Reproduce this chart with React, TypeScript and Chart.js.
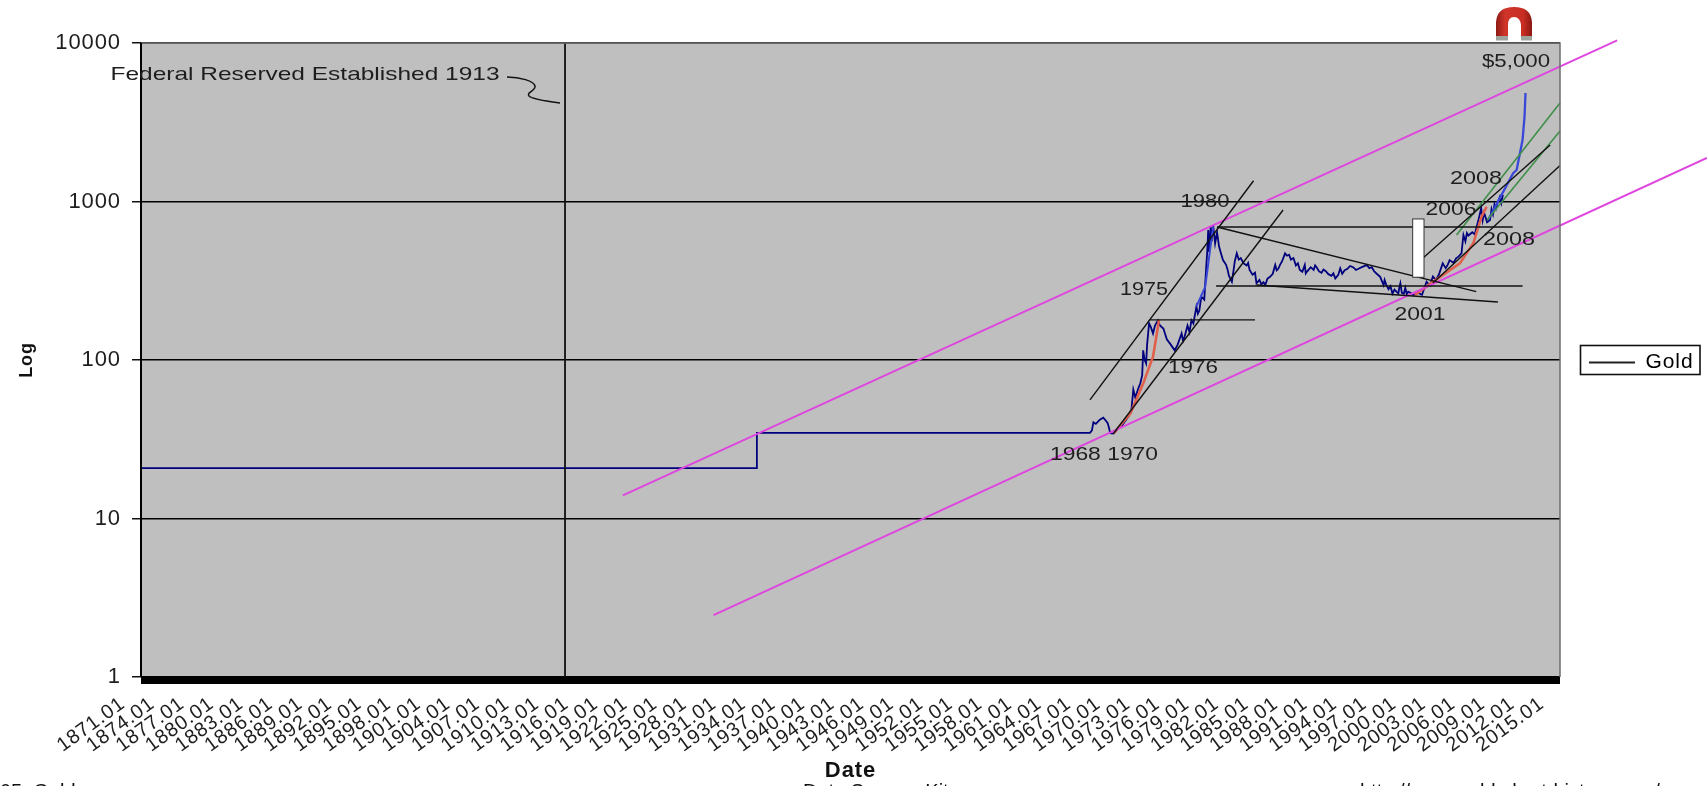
import React, { useEffect, useRef } from "react";
import { Chart, registerables } from "chart.js";

Chart.register(...registerables);

const SANS = "'Liberation Sans', Arial, sans-serif";

const tickYears = [1871, 1874, 1877, 1880, 1883, 1886, 1889, 1892, 1895, 1898, 1901, 1904, 1907, 1910, 1913, 1916, 1919, 1922, 1925, 1928, 1931, 1934, 1937, 1940, 1943, 1946, 1949, 1952, 1955, 1958, 1961, 1964, 1967, 1970, 1973, 1976, 1979, 1982, 1985, 1988, 1991, 1994, 1997, 2000, 2003, 2006, 2009, 2012, 2015];
const valueTicks = [1, 10, 100, 1000, 10000];

const goldDates = [1871, 1933.5, 1933.5, 1967.3, 1967.5, 1967.65, 1967.9, 1968.3, 1968.65, 1968.9, 1969.1, 1969.25, 1969.35, 1969.7, 1970.2, 1970.6, 1971.2, 1971.5, 1971.7, 1971.9, 1972.2, 1972.4, 1972.6, 1972.7, 1972.85, 1973.0, 1973.1, 1973.3, 1973.5, 1973.7, 1973.9, 1974.2, 1974.4, 1974.75, 1975.1, 1975.5, 1975.9, 1976.2, 1976.6, 1976.75, 1976.9, 1977.05, 1977.2, 1977.4, 1977.6, 1977.8, 1978.1, 1978.25, 1978.4, 1978.6, 1978.9, 1979.1, 1979.2, 1979.3, 1979.4, 1979.55, 1979.65, 1979.8, 1980, 1980.2, 1980.4, 1980.6, 1980.8, 1981.1, 1981.25, 1981.4, 1981.7, 1981.85, 1982, 1982.2, 1982.4, 1982.6, 1982.9, 1983.2, 1983.35, 1983.5, 1983.8, 1984.05, 1984.2, 1984.5, 1984.7, 1984.9, 1985.1, 1985.3, 1985.6, 1985.85, 1986.1, 1986.25, 1986.4, 1986.6, 1986.8, 1987.1, 1987.3, 1987.5, 1987.7, 1987.95, 1988.2, 1988.4, 1988.6, 1988.85, 1989.1, 1989.2, 1989.3, 1989.5, 1989.7, 1990.0, 1990.15, 1990.3, 1990.55, 1990.8, 1991.0, 1991.2, 1991.5, 1991.8, 1992.0, 1992.2, 1992.5, 1992.7, 1992.9, 1993.15, 1993.4, 1993.7, 1994, 1994.3, 1994.6, 1995, 1995.4, 1995.65, 1995.9, 1996.15, 1996.4, 1996.75, 1997.1, 1997.2, 1997.35, 1997.6, 1997.8, 1998.0, 1998.2, 1998.4, 1998.6, 1998.7, 1998.8, 1998.95, 1999.15, 1999.3, 1999.45, 1999.6, 1999.85, 2000.1, 2000.6, 2001, 2001.46, 2001.8, 2002.1, 2002.4, 2002.7, 2003.1, 2003.4, 2003.6, 2003.8, 2004.2, 2004.45, 2004.7, 2005.0, 2005.2, 2005.4, 2005.55, 2005.7, 2006.1, 2006.35, 2006.5, 2006.8, 2007, 2007.15, 2007.3, 2007.6, 2007.9, 2008.05, 2008.2, 2008.35, 2008.5, 2008.7, 2008.9, 2009.05, 2009.2];
const goldPrices = [20.8, 20.8, 34.7, 34.7, 36, 40.5, 39.5, 42, 43.3, 41.5, 40, 37, 34.6, 34.4, 37, 39, 44, 48, 65, 58, 66, 71, 80, 115, 100, 95, 125, 170, 160, 147, 165, 178, 165, 158, 135, 125, 115, 125, 147, 132, 140, 152, 165, 150, 178, 170, 217, 196, 205, 251, 240, 388, 480, 661, 480, 700, 560, 711, 545, 640, 520, 470, 427, 400, 375, 340, 312, 360, 420, 471, 430, 440, 407, 395, 410, 370, 345, 355, 305, 320, 300, 310, 298, 325, 336, 350, 398, 368, 375, 400, 420, 471, 455, 462, 430, 440, 395, 408, 370, 360, 398, 352, 360, 372, 385, 370, 395, 385, 362, 355, 372, 365, 348, 340, 352, 327, 345, 379, 350, 368, 375, 392, 385, 370, 378, 388, 398, 380, 385, 362, 350, 335, 297, 320, 300, 280, 292, 262, 278, 270, 263, 288, 305, 265, 262, 285, 260, 270, 265, 257, 265, 258, 312, 295, 336, 320, 345, 407, 380, 398, 427, 410, 438, 449, 470, 615, 560, 632, 610, 640, 620, 677, 800, 906, 760, 850, 740, 764, 895, 830, 960, 900, 1000, 1072, 980, 1100];

const projection1Dates = [1978.1, 1979, 1979.4, 1979.8];
const projection1Prices = [217, 290, 449, 693];
const projection2Dates = [2007.7, 2010.25, 2010.6, 2011.2, 2011.4, 2011.5];
const projection2Prices = [765, 1507, 1580, 2444, 3427, 4840];

const redCurve1Dates = [1969.7, 1971.4, 1972.7, 1973.7, 1974.2, 1974.3];
const redCurve1Prices = [34.5, 46, 71, 105, 162, 179];
const redCurve2Dates = [2000.27, 2002.13, 2004.84, 2006.2, 2007.04, 2007.55];
const redCurve2Prices = [257, 312, 407, 545, 802, 927];

// [startYear, startValue, endYear, endValue]
const magentaChannels = [
  [1919.9, 14, 2020.8, 10400],
  [1929.1, 2.46, 2029.9, 1882],
];
const blackTrendLines = [
  [1914.03, 1, 1914.03, 10000],
  [1967.3, 56, 1983.9, 1352],
  [1969.7, 34.5, 1986.9, 884],
  [1973.4, 179, 1984.05, 179],
  [1980.2, 690, 2010.2, 690],
  [1980.1, 293, 2011.2, 293],
  [1980.2, 690, 2006.5, 270],
  [1984.2, 297, 2008.7, 232],
  [2000.1, 388, 2014, 2272],
  [2002.1, 306, 2015, 1687],
];
const greenTrendLines = [
  [2004.5, 615, 2015, 4182],
  [2007.6, 765, 2015, 2786],
];
const whiteBox = [2000.05, 776, 2001.2, 332.6];

const annotationLabels: [string, number, number, number][] = [
  ["Federal Reserved Established 1913", 305, 75, 389],
  ["$5,000", 1516, 62, 68],
  ["2008", 1476, 179, 52],
  ["2006", 1451, 210, 51],
  ["2008", 1509, 240, 52],
  ["2001", 1420, 315, 51],
  ["1980", 1205, 202, 49],
  ["1975", 1144, 290, 48],
  ["1976", 1193, 368, 50],
  ["1968 1970", 1104, 455, 108],
];
const footerLabels: [string, number][] = [
  ["05: Gold", 0],
  ["Data Source: Kitco.com", 803],
  ["http://www.gold-chart-history.com/", 1360],
];

function pairLine(xs: number[], ys: number[], color: string, width: number, label: string) {
  return {
    label,
    data: xs.map((x, i) => ({ x, y: ys[i] })),
    borderColor: color,
    borderWidth: width,
    pointRadius: 0,
    tension: 0,
    clip: false as const,
  };
}
function segment(s: number[], color: string, width: number, label: string) {
  return pairLine([s[0], s[2]], [s[1], s[3]], color, width, label);
}

const chromePlugin = {
  id: "chrome",
  beforeDraw(chart: any) {
    const { ctx } = chart;
    ctx.letterSpacing = "0.9px";
    const a = chart.chartArea;
    ctx.save();
    ctx.letterSpacing = "0px";
    ctx.fillStyle = "#fff";
    ctx.fillRect(0, 0, chart.width, chart.height);
    ctx.fillStyle = "#bfbfbf";
    ctx.fillRect(a.left, a.top, a.right - a.left, a.bottom - a.top);
    ctx.restore();
  },
  afterLayout(chart: any) {
    const l = chart.legend;
    if (l) {
      l.left = 1584;
      l.right = 1700;
      l.top = 347;
      l.bottom = 374;
      l.width = 116;
      l.height = 27;
    }
  },
  afterDatasetsDraw(chart: any) {
    const { ctx, scales } = chart;
    const a = chart.chartArea;
    const x = scales.x;
    const y = scales.y;
    ctx.save();
    ctx.letterSpacing = "0px";

    // white marker
    const bx0 = x.getPixelForValue(whiteBox[0]);
    const bx1 = x.getPixelForValue(whiteBox[2]);
    const by0 = y.getPixelForValue(whiteBox[1]);
    const by1 = y.getPixelForValue(whiteBox[3]);
    ctx.fillStyle = "#fff";
    ctx.strokeStyle = "#333";
    ctx.lineWidth = 1;
    ctx.fillRect(bx0, by0, bx1 - bx0, by1 - by0);
    ctx.strokeRect(bx0, by0, bx1 - bx0, by1 - by0);

    // plot frame and floor
    ctx.strokeStyle = "#6e6e6e";
    ctx.lineWidth = 1.5;
    ctx.beginPath();
    ctx.moveTo(a.left, a.top);
    ctx.lineTo(a.right, a.top);
    ctx.lineTo(a.right, a.bottom);
    ctx.stroke();
    ctx.strokeStyle = "#000";
    ctx.lineWidth = 2;
    ctx.beginPath();
    ctx.moveTo(a.left, a.top);
    ctx.lineTo(a.left, a.bottom);
    ctx.stroke();
    ctx.fillStyle = "#000";
    ctx.fillRect(a.left, a.bottom, a.right - a.left, 7);

    // annotations, widened like the source picture
    ctx.fillStyle = "#1e1e1e";
    ctx.font = `19px ${SANS}`;
    ctx.textAlign = "center";
    ctx.textBaseline = "middle";
    for (const [t, cx, cy, w] of annotationLabels) {
      ctx.save();
      ctx.translate(cx, cy);
      ctx.scale(w / ctx.measureText(t).width, 1);
      ctx.fillText(t, 0, 0);
      ctx.restore();
    }

    // connector from the Federal Reserve note
    ctx.strokeStyle = "#111";
    ctx.lineWidth = 1.5;
    ctx.beginPath();
    ctx.moveTo(507, 77);
    ctx.bezierCurveTo(520, 77, 534, 81, 535, 86);
    ctx.bezierCurveTo(536, 91, 526, 92, 529, 96);
    ctx.bezierCurveTo(533, 100, 548, 101, 560, 103);
    ctx.stroke();

    // magnet icon
    const g = ctx.createLinearGradient(1496, 0, 1532, 0);
    g.addColorStop(0, "#8e1a14");
    g.addColorStop(0.25, "#d0352a");
    g.addColorStop(0.75, "#c92e24");
    g.addColorStop(1, "#8a1812");
    ctx.fillStyle = g;
    ctx.beginPath();
    ctx.moveTo(1496, 36);
    ctx.lineTo(1496, 22);
    ctx.quadraticCurveTo(1497, 7, 1514, 7);
    ctx.quadraticCurveTo(1531, 7, 1532, 22);
    ctx.lineTo(1532, 36);
    ctx.lineTo(1521, 36);
    ctx.lineTo(1521, 25);
    ctx.quadraticCurveTo(1520, 17, 1514, 17);
    ctx.quadraticCurveTo(1508, 17, 1508, 25);
    ctx.lineTo(1508, 36);
    ctx.closePath();
    ctx.fill();
    ctx.fillStyle = "#9da39d";
    ctx.fillRect(1496, 36, 12, 4.5);
    ctx.fillRect(1521, 36, 11, 4.5);

    // legend frame
    ctx.strokeStyle = "#111";
    ctx.lineWidth = 1.6;
    ctx.strokeRect(1580.5, 345.5, 119.5, 29);

    // footer, cut off by the page bottom
    ctx.fillStyle = "#111";
    ctx.font = `20px ${SANS}`;
    ctx.textAlign = "left";
    ctx.textBaseline = "alphabetic";
    for (const [t, fx] of footerLabels) ctx.fillText(t, fx, 798);
    ctx.restore();
  },
};

export default function App() {
  const ref = useRef<HTMLCanvasElement | null>(null);
  useEffect(() => {
    if (!ref.current) return;
    const chart = new Chart(ref.current, {
      type: "line",
      plugins: [chromePlugin],
      data: {
        datasets: [
          ...blackTrendLines.map((s, i) => segment(s, "#111", i === 0 ? 1.8 : 1.4, `Trend ${i + 1}`)),
          ...greenTrendLines.map((s, i) => segment(s, "#3f8f4a", 1.6, `Green ${i + 1}`)),
          ...magentaChannels.map((s, i) => segment(s, "#df45df", 1.9, `Channel ${i + 1}`)),
          pairLine(redCurve1Dates, redCurve1Prices, "#e0604c", 2.6, "Curve 1"),
          pairLine(redCurve2Dates, redCurve2Prices, "#e0604c", 2.6, "Curve 2"),
          pairLine(projection1Dates, projection1Prices, "#3a48d8", 2, "Projection 1"),
          pairLine(projection2Dates, projection2Prices, "#3a48d8", 2.3, "Projection 2"),
          pairLine(goldDates, goldPrices, "#00007e", 1.8, "Gold"),
        ],
      },
      options: {
        animation: false,
        responsive: false,
        devicePixelRatio: 1,
        parsing: false,
        layout: { padding: { left: 0, top: 43, right: 147, bottom: 0 } },
        plugins: {
          title: { display: false },
          tooltip: { enabled: false },
          legend: {
            display: true,
            position: "chartArea",
            align: "start",
            labels: {
              boxWidth: 46,
              boxHeight: 2,
              padding: 5,
              color: "#1e1e1e",
              font: { family: SANS, size: 21 },
              generateLabels: () => [
                { text: "Gold", fillStyle: "#222", strokeStyle: "#222", lineWidth: 0, hidden: false, datasetIndex: 0 },
              ],
            },
          },
        },
        scales: {
          x: {
            type: "linear",
            min: 1871,
            max: 2015,
            afterBuildTicks: (s: any) => {
              s.ticks = tickYears.map((value) => ({ value }));
            },
            afterFit: (s: any) => {
              s.height = 109;
            },
            grid: { display: false },
            border: { display: false },
            ticks: {
              autoSkip: false,
              minRotation: 36,
              maxRotation: 36,
              padding: 7,
              labelOffset: -18,
              color: "#1e1e1e",
              font: { family: SANS, size: 20 },
              callback: (v: any) => `${v}.01`,
            },
            title: {
              display: true,
              text: "Date",
              color: "#111",
              padding: { top: 0, bottom: 2 },
              font: { family: SANS, size: 22, weight: "bold" },
            },
          },
          y: {
            type: "logarithmic",
            min: 1,
            max: 10000,
            afterBuildTicks: (s: any) => {
              s.ticks = valueTicks.map((value) => ({ value, major: true }));
            },
            afterFit: (s: any) => {
              s.width = 141;
            },
            grid: { color: "#000", lineWidth: 1.5, tickLength: 9, tickColor: "#111" },
            border: { display: false },
            ticks: {
              padding: 11,
              color: "#1e1e1e",
              font: { family: SANS, size: 22 },
              callback: (v: any) => String(v),
            },
            title: {
              display: true,
              text: "Log",
              color: "#111",
              padding: { top: 16, bottom: 0 },
              font: { family: SANS, size: 18, weight: "bold" },
            },
          },
        },
      },
    } as any);
    return () => chart.destroy();
  }, []);
  return (
    <canvas
      ref={ref}
      width={1707}
      height={786}
      style={{ position: "fixed", left: 0, top: 0, display: "block", width: 1707, height: 786, filter: "blur(0.4px)" }}
    />
  );
}
